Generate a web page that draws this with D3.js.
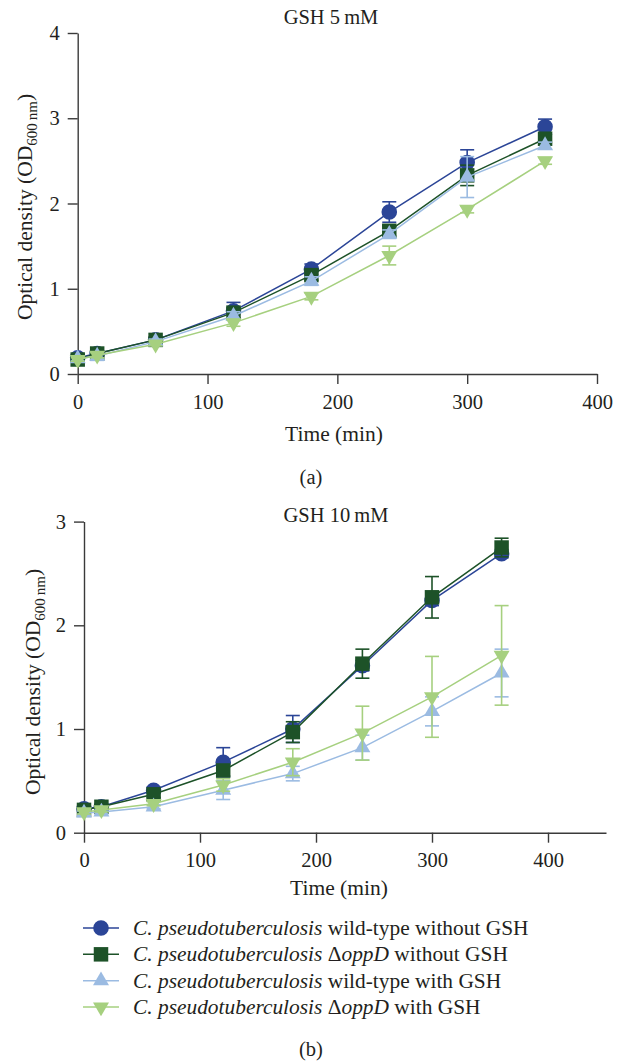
<!DOCTYPE html>
<html>
<head>
<meta charset="utf-8">
<script src="https://cdn.jsdelivr.net/npm/d3@7"></script>
<style>
  html, body { margin: 0; padding: 0; background: #fff; }
  svg { display: block; font-family: "Liberation Serif", "DejaVu Serif", serif; }
</style>
</head>
<body>
<svg id="fig" width="622" height="1061"></svg>
<script>
// Sampling times (min)
const times = [0, 15, 60, 120, 180, 240, 300, 360];

// Panel (a): GSH 5 mM — mean OD600 and SD
const wtNoGsh5     = [0.19, 0.24, 0.40, 0.74, 1.23, 1.90, 2.48, 2.90];
const wtNoGsh5Sd   = [0.03, 0.03, 0.03, 0.10, 0.06, 0.12, 0.15, 0.09];
const oppNoGsh5    = [0.17, 0.24, 0.40, 0.72, 1.16, 1.68, 2.33, 2.76];
const oppNoGsh5Sd  = [0.02, 0.03, 0.03, 0.06, 0.06, 0.06, 0.12, 0.05];
const wtGsh5       = [0.18, 0.21, 0.38, 0.68, 1.09, 1.64, 2.31, 2.68];
const wtGsh5Sd     = [0.03, 0.05, 0.03, 0.05, 0.05, 0.05, 0.24, 0.04];
const oppGsh5      = [0.17, 0.22, 0.35, 0.60, 0.91, 1.39, 1.93, 2.50];
const oppGsh5Sd    = [0.02, 0.03, 0.02, 0.04, 0.04, 0.11, 0.04, 0.04];

// Panel (b): GSH 10 mM — mean OD600 and SD
const wtNoGsh10    = [0.23, 0.25, 0.41, 0.68, 1.00, 1.61, 2.24, 2.69];
const wtNoGsh10Sd  = [0.02, 0.02, 0.03, 0.14, 0.13, 0.05, 0.05, 0.04];
const oppNoGsh10   = [0.22, 0.25, 0.37, 0.60, 0.97, 1.63, 2.27, 2.75];
const oppNoGsh10Sd = [0.02, 0.02, 0.03, 0.05, 0.10, 0.14, 0.20, 0.09];
const wtGsh10      = [0.19, 0.20, 0.25, 0.41, 0.57, 0.82, 1.17, 1.54];
const wtGsh10Sd    = [0.02, 0.02, 0.02, 0.09, 0.07, 0.12, 0.14, 0.23];
const oppGsh10     = [0.20, 0.22, 0.28, 0.46, 0.68, 0.96, 1.31, 1.71];
const oppGsh10Sd   = [0.02, 0.02, 0.02, 0.06, 0.13, 0.26, 0.39, 0.48];

// Axis ticks
const xTicksA = [0, 100, 200, 300, 400];
const yTicksA = [0, 1, 2, 3, 4];
const xTicksB = [0, 100, 200, 300, 400];
const yTicksB = [0, 1, 2, 3];

// Strain / condition labels (italic species, Δ upright)
const legendRows = [
  [{t: "C. pseudotuberculosis", i: true}, {t: " wild-type without GSH"}],
  [{t: "C. pseudotuberculosis", i: true}, {t: " Δ"}, {t: "oppD", i: true}, {t: " without GSH"}],
  [{t: "C. pseudotuberculosis", i: true}, {t: " wild-type with GSH"}],
  [{t: "C. pseudotuberculosis", i: true}, {t: " Δ"}, {t: "oppD", i: true}, {t: " with GSH"}]
];

// Per-series styling
const colors = ["#2b4597", "#1d5228", "#9bbbe2", "#a6d07f"];
const shapes = ["circle", "square", "triangleUp", "triangleDown"];

const svg = d3.select("#fig");
const ink = "#231f20";

function markerPath(shape) {
  const s = 16;            // triangle side
  const h = s * Math.sqrt(3) / 2;
  if (shape === "circle") return d3.symbol(d3.symbolCircle, Math.PI * 7.8 * 7.8)();
  if (shape === "square") return d3.symbol(d3.symbolSquare, 14.5 * 14.5)();
  if (shape === "triangleUp") return `M0,${-2 * h / 3}L${s / 2},${h / 3}L${-s / 2},${h / 3}Z`;
  return `M0,${2 * h / 3}L${s / 2},${-h / 3}L${-s / 2},${-h / 3}Z`;
}

function drawPanel(cfg) {
  const x = d3.scaleLinear().domain(cfg.xDomain).range(cfg.xRange);
  const y = d3.scaleLinear().domain(cfg.yDomain).range(cfg.yRange);
  const g = svg.append("g");

  // axes
  const xAxis = d3.axisBottom(x).tickValues(cfg.xTicks).tickSize(10).tickSizeOuter(0).tickPadding(10);
  const yAxis = d3.axisLeft(y).tickValues(cfg.yTicks).tickSize(10).tickSizeOuter(0).tickPadding(8)
    .tickFormat(d3.format("d"));
  const gx = g.append("g").attr("transform", `translate(0,${cfg.yRange[0]})`).call(xAxis);
  const gy = g.append("g").attr("transform", `translate(${cfg.xRange[0]},0)`).call(yAxis);
  [gx, gy].forEach(a => {
    a.selectAll("path, line").attr("stroke", "#3a3a3a").attr("stroke-width", 1.4);
    a.selectAll("text").attr("fill", ink).attr("font-size", 20.5)
      .attr("font-family", "Liberation Serif, serif");
  });

  // series: lines, error bars, markers
  cfg.series.forEach((s, k) => {
    const pts = times.map((t, i) => ({t, v: s.values[i], e: s.sd[i]}));
    const sg = g.append("g");
    sg.append("path")
      .datum(pts)
      .attr("fill", "none")
      .attr("stroke", colors[k])
      .attr("stroke-width", 1.5)
      .attr("d", d3.line().x(d => x(d.t)).y(d => y(d.v)));
    const eb = sg.selectAll(".eb").data(pts).join("g")
      .attr("stroke", colors[k]).attr("stroke-width", 1.6);
    eb.append("line")
      .attr("x1", d => x(d.t)).attr("x2", d => x(d.t))
      .attr("y1", d => y(d.v - d.e)).attr("y2", d => y(d.v + d.e));
    [-1, 1].forEach(sgn => {
      eb.append("line")
        .attr("x1", d => x(d.t) - 7).attr("x2", d => x(d.t) + 7)
        .attr("y1", d => y(d.v + sgn * d.e)).attr("y2", d => y(d.v + sgn * d.e));
    });
    sg.selectAll(".mk").data(pts).join("path")
      .attr("d", markerPath(shapes[k]))
      .attr("transform", d => `translate(${x(d.t)},${y(d.v)})`)
      .attr("fill", colors[k]);
  });

  // title
  g.append("text")
    .attr("x", cfg.titleX).attr("y", cfg.titleY)
    .attr("text-anchor", "middle").attr("font-size", 20.5).attr("fill", ink)
    .text(cfg.title);

  // x-axis title
  g.append("text")
    .attr("x", cfg.xLabelX).attr("y", cfg.xLabelY)
    .attr("text-anchor", "middle").attr("font-size", 21.5).attr("fill", ink)
    .text("Time (min)");

  // y-axis title with subscript
  const yl = g.append("text")
    .attr("transform", `translate(${cfg.yLabelX},${cfg.yLabelY}) rotate(-90)`)
    .attr("text-anchor", "middle").attr("font-size", 21.5).attr("fill", ink);
  yl.append("tspan").text("Optical density (OD");
  yl.append("tspan").attr("font-size", 15).attr("dy", 5).text("600\u2009nm");
  yl.append("tspan").attr("dy", -5).text(")");

  // panel letter
  g.append("text")
    .attr("x", 311).attr("y", cfg.letterY)
    .attr("text-anchor", "middle").attr("font-size", 20.5).attr("fill", ink)
    .text(cfg.letter);
}

drawPanel({
  xDomain: [0, 400], xRange: [77.7, 597],
  yDomain: [0, 4], yRange: [374, 33],
  xTicks: xTicksA, yTicks: yTicksA,
  series: [
    {values: wtNoGsh5, sd: wtNoGsh5Sd},
    {values: oppNoGsh5, sd: oppNoGsh5Sd},
    {values: wtGsh5, sd: wtGsh5Sd},
    {values: oppGsh5, sd: oppGsh5Sd}
  ],
  title: "GSH 5\u2009mM", titleX: 331, titleY: 24,
  xLabelX: 334, xLabelY: 441,
  yLabelX: 32, yLabelY: 207,
  letter: "(a)", letterY: 484
});

drawPanel({
  xDomain: [0, 450], xRange: [84, 606],
  yDomain: [0, 3], yRange: [832.7, 521.6],
  xTicks: xTicksB, yTicks: yTicksB,
  series: [
    {values: wtNoGsh10, sd: wtNoGsh10Sd},
    {values: oppNoGsh10, sd: oppNoGsh10Sd},
    {values: wtGsh10, sd: wtGsh10Sd},
    {values: oppGsh10, sd: oppGsh10Sd}
  ],
  title: "GSH 10\u2009mM", titleX: 336, titleY: 522,
  xLabelX: 339, xLabelY: 895,
  yLabelX: 40, yLabelY: 682,
  letter: "(b)", letterY: 1056
});

// legend
const legY = d3.scalePoint().domain(d3.range(legendRows.length)).range([928, 1007]);
const leg = svg.append("g");
legendRows.forEach((row, k) => {
  const cy = legY(k);
  leg.append("line").attr("x1", 83).attr("x2", 119).attr("y1", cy).attr("y2", cy)
    .attr("stroke", colors[k]).attr("stroke-width", 1.5);
  leg.append("path").attr("d", markerPath(shapes[k]))
    .attr("transform", `translate(101,${cy})`).attr("fill", colors[k]);
  const t = leg.append("text").attr("x", 133).attr("y", cy + 7)
    .attr("font-size", 21.4).attr("fill", ink);
  row.forEach(p => {
    t.append("tspan").attr("font-style", p.i ? "italic" : "normal").text(p.t);
  });
});
</script>
</body>
</html>
